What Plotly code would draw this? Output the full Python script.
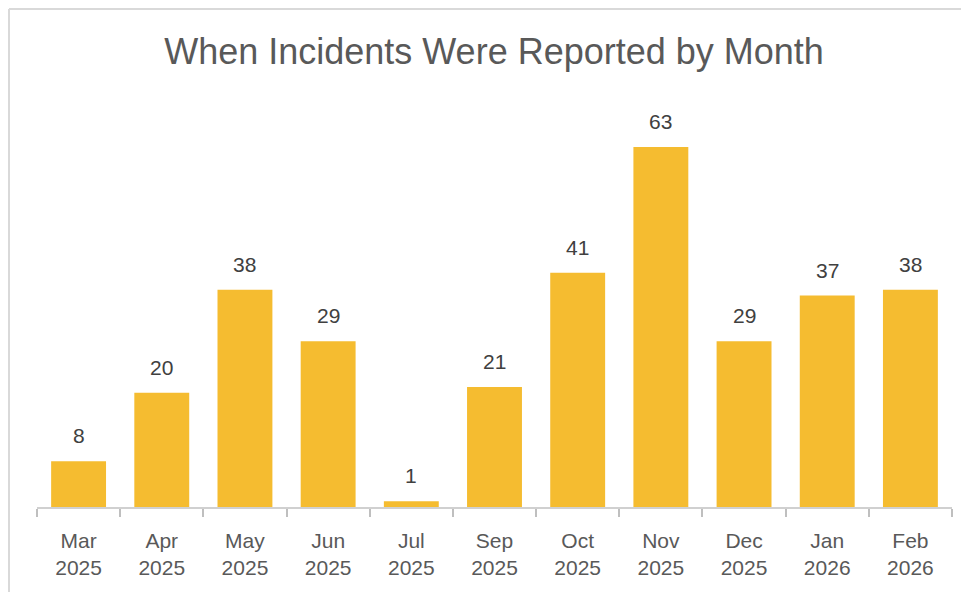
import plotly.graph_objects as go

months = ["Mar", "Apr", "May", "Jun", "Jul", "Sep", "Oct", "Nov", "Dec", "Jan", "Feb"]
years = ["2025", "2025", "2025", "2025", "2025", "2025", "2025", "2025", "2025", "2026", "2026"]
counts = [8, 20, 38, 29, 1, 21, 41, 63, 29, 37, 38]

categories = [f"{m}<br>{y}" for m, y in zip(months, years)]
FONT = "Liberation Sans, Arial"

fig = go.Figure(go.Bar(
    x=categories, y=counts, width=0.66,
    marker=dict(color="#F5BC30", line=dict(width=0)),
))

for cat, c in zip(categories, counts):
    fig.add_annotation(x=cat, y=c, text=str(c), showarrow=False,
                       yanchor="bottom", yshift=12,
                       font=dict(family=FONT, size=21, color="#404040"))

# page has 8px body margin; figure coordinates are page coordinates minus 8
W, H = 953, 584
top, bottom = 99, 499
left, right = 29, 944
pw, ph = right - left, bottom - top
fig.update_layout(
    width=W, height=H,
    margin=dict(l=left, r=W - right, t=top, b=H - bottom, pad=0),
    paper_bgcolor="white", plot_bgcolor="white",
    title=dict(text="When Incidents Were Reported by Month", x=486 / W, xanchor="center",
               y=1 - 43 / H, yanchor="middle",
               font=dict(family=FONT, size=36, color="#595959")),
    showlegend=False,
    xaxis=dict(tickson="boundaries", ticks="outside", ticklen=8, tickcolor="#BFBFBF",
               tickwidth=1.5, ticklabelstandoff=14,
               showline=True, linecolor="#D0D0D0", linewidth=1.5,
               tickfont=dict(family=FONT, size=21, color="#595959"),
               showgrid=False, fixedrange=True),
    yaxis=dict(range=[0, 70], visible=False, showgrid=False, zeroline=False),
    shapes=[
        dict(type="line", xref="paper", yref="paper",
             x0=(1 - left) / pw, x1=1.2, y0=1 + (top - 1) / ph, y1=1 + (top - 1) / ph,
             line=dict(color="#D9D9D9", width=2)),
        dict(type="line", xref="paper", yref="paper",
             x0=(1 - left) / pw, x1=(1 - left) / pw, y0=1 + (top - 1) / ph, y1=-(H - bottom) / ph,
             line=dict(color="#D9D9D9", width=2)),
    ],
)

fig.write_html("out.html")
